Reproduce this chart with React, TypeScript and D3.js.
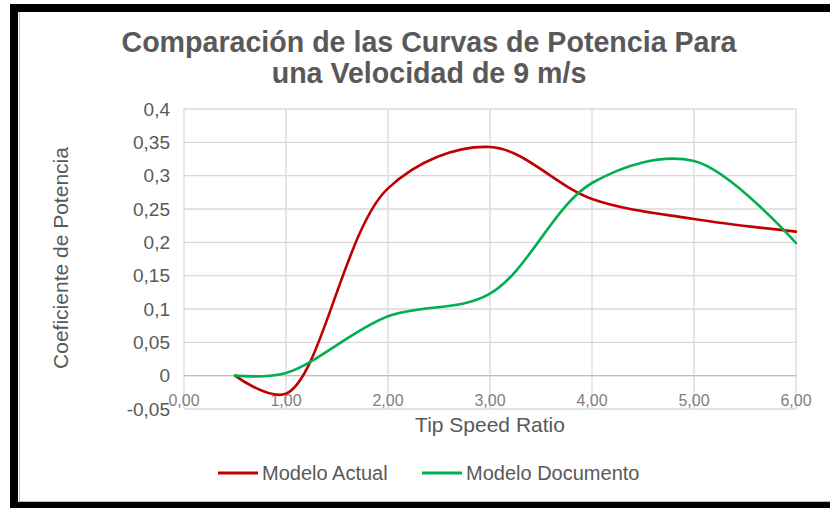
import React from "react";
import * as d3 from "d3";

const tsr = [0.5, 1.0, 2.0, 3.0, 4.0, 5.0, 6.0];
const modeloActual = [0.0, -0.027, 0.281, 0.343, 0.265, 0.235, 0.216];
const modeloDocumento = [0.0, 0.004, 0.089, 0.123, 0.289, 0.322, 0.199];

const xTicks = [0, 1, 2, 3, 4, 5, 6];
const xTickLabels = ["0,00", "1,00", "2,00", "3,00", "4,00", "5,00", "6,00"];
const yTicks = [0.4, 0.35, 0.3, 0.25, 0.2, 0.15, 0.1, 0.05, 0, -0.05];
const yTickLabels = ["0,4", "0,35", "0,3", "0,25", "0,2", "0,15", "0,1", "0,05", "0", "-0,05"];

const seriesNames = ["Modelo Actual", "Modelo Documento"];
const seriesColors = ["#C00000", "#00B050"];

const FONT = "'Liberation Sans', Arial, sans-serif";

export default function App() {
  const W = 830;
  const H = 508;
  const x = d3.scaleLinear().domain([0, 6]).range([184, 796]);
  const y = d3.scaleLinear().domain([-0.05, 0.4]).range([409, 109]);

  const line = d3
    .line<[number, number]>()
    .x((d) => x(d[0]))
    .y((d) => y(d[1]))
    .curve(d3.curveCatmullRom.alpha(0.5));

  const series = [modeloActual, modeloDocumento];

  return (
    <div style={{ position: "absolute", left: 0, top: 0 }}>
      <svg width={W} height={H} style={{ display: "block" }}>
        <rect x={0} y={0} width={W} height={H} fill="#fff" />
        <rect x={10} y={4} width={W - 10} height={H - 4} fill="#000" />
        <rect x={18} y={12} width={W - 18} height={490} fill="#fff" />
        <line x1={19.5} y1={12} x2={19.5} y2={501} stroke="#bfbfbf" strokeWidth={1} />
        <line x1={18} y1={501.5} x2={W} y2={501.5} stroke="#bfbfbf" strokeWidth={1} />

        <text x={429} y={52} textAnchor="middle" fontFamily={FONT} fontWeight="bold" fontSize={28.6} fill="#595959">
          Comparación de las Curvas de Potencia Para
        </text>
        <text x={429} y={83} textAnchor="middle" fontFamily={FONT} fontWeight="bold" fontSize={28.6} fill="#595959">
          una Velocidad de 9 m/s
        </text>

        {yTicks.map((t) => (
          <line key={"gy" + t} x1={x(0)} x2={x(6)} y1={y(t)} y2={y(t)} stroke="#d9d9d9" strokeWidth={1.3} />
        ))}
        {xTicks.map((t) => (
          <line key={"gx" + t} x1={x(t)} x2={x(t)} y1={y(0.4)} y2={y(-0.05)} stroke="#d9d9d9" strokeWidth={1.3} />
        ))}
        <line x1={x(0)} x2={x(6)} y1={y(0)} y2={y(0)} stroke="#bfbfbf" strokeWidth={1.3} />

        {yTicks.map((t, i) => (
          <text key={"ty" + t} x={170} y={y(t)} dy="0.35em" textAnchor="end" fontFamily={FONT} fontSize={19} fill="#595959">
            {yTickLabels[i]}
          </text>
        ))}
        {xTicks.map((t, i) => (
          <text key={"tx" + t} x={x(t)} y={y(0) + 30} textAnchor="middle" fontFamily={FONT} fontSize={16} fill="#808080">
            {xTickLabels[i]}
          </text>
        ))}

        <text x={490} y={432} textAnchor="middle" fontFamily={FONT} fontSize={21} fill="#595959">
          Tip Speed Ratio
        </text>
        <text
          transform={`translate(68,258) rotate(-90)`}
          textAnchor="middle"
          fontFamily={FONT}
          fontSize={21}
          fill="#595959"
        >
          Coeficiente de Potencia
        </text>

        {series.map((s, i) => (
          <path
            key={seriesNames[i]}
            d={line(tsr.map((t, j) => [t, s[j]] as [number, number])) || ""}
            fill="none"
            stroke={seriesColors[i]}
            strokeWidth={2.6}
            strokeLinecap="round"
          />
        ))}

        <line x1={218} x2={258} y1={473} y2={473} stroke={seriesColors[0]} strokeWidth={3} />
        <text x={262} y={480} fontFamily={FONT} fontSize={20} fill="#595959">
          {seriesNames[0]}
        </text>
        <line x1={422} x2={462} y1={473} y2={473} stroke={seriesColors[1]} strokeWidth={3} />
        <text x={466} y={480} fontFamily={FONT} fontSize={20} fill="#595959">
          {seriesNames[1]}
        </text>
      </svg>
    </div>
  );
}
